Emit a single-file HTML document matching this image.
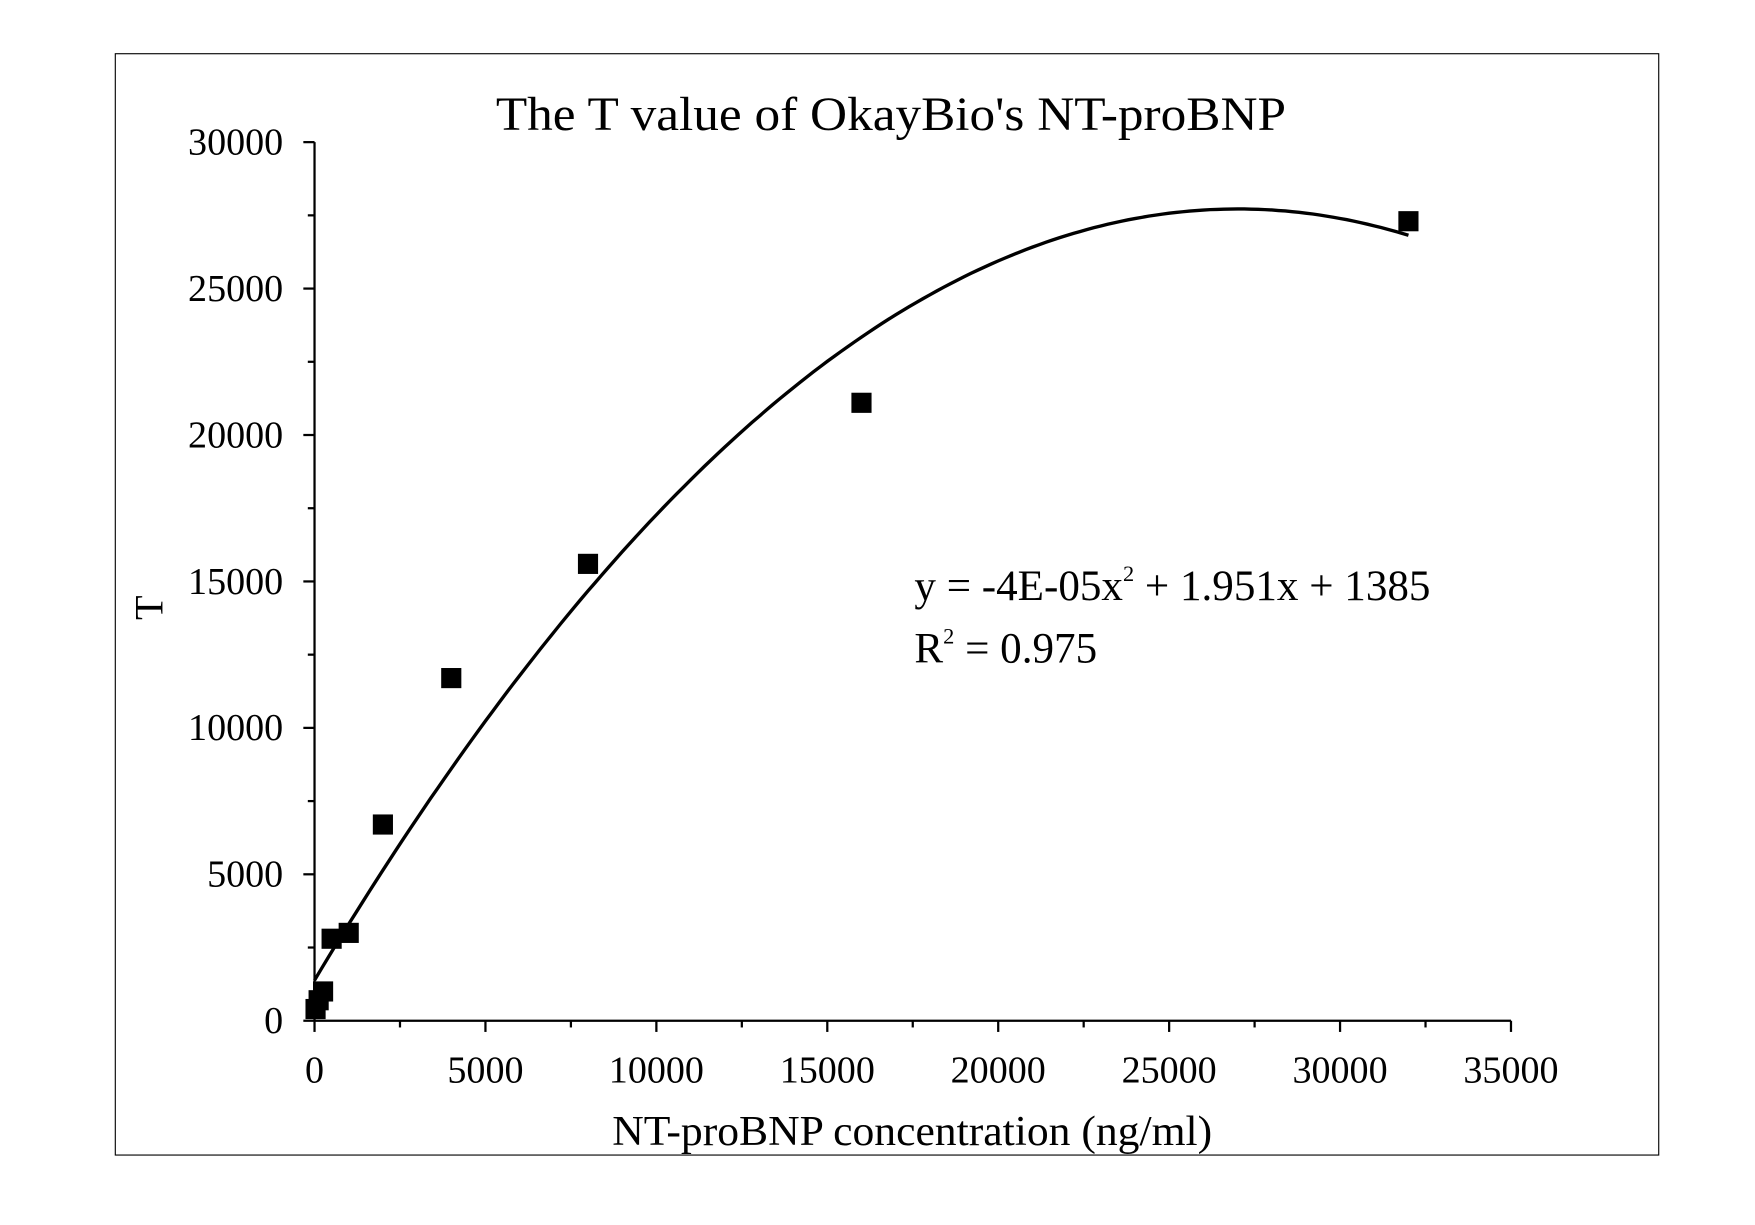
<!DOCTYPE html>
<html><head><meta charset="utf-8"><style>
html,body{margin:0;padding:0;background:#fff}
svg{display:block}
text{font-family:"Liberation Serif",serif;fill:#000}
</style></head><body>
<svg id="s" width="1755" height="1225" viewBox="0 0 1568 1094.5" xmlns="http://www.w3.org/2000/svg">
<rect x="103" y="48" width="1379" height="984" fill="none" stroke="#000" stroke-width="1"/>
<text x="796" y="116" font-size="43" text-anchor="middle" textLength="706" lengthAdjust="spacingAndGlyphs">The T value of OkayBio's NT-proBNP</text>
<text x="815" y="1023" font-size="38" text-anchor="middle" textLength="536" lengthAdjust="spacingAndGlyphs">NT-proBNP concentration (ng/ml)</text>
<text transform="translate(145,543) rotate(-90)" font-size="36" text-anchor="middle">T</text>
<text x="817" y="536" font-size="38.5">y = -4E-05x<tspan font-size="20" dy="-17">2</tspan><tspan dy="17"> + 1.951x + 1385</tspan></text>
<text x="817" y="592" font-size="38.5">R<tspan font-size="20" dy="-17">2</tspan><tspan dy="17"> = 0.975</tspan></text>
<g id="g" stroke="#000" stroke-width="2" fill="none"></g>
<g id="t" font-size="34"></g>
</svg>
<script>
var X0=281,XS=(1350-281)/35000,Y0=912,YS=(912-127)/30000;
function px(x){return X0+x*XS}function py(y){return Y0-y*YS}
var g=document.getElementById('g'),t=document.getElementById('t'),ns='http://www.w3.org/2000/svg';
function el(p,n,a){var e=document.createElementNS(ns,n);for(var k in a)e.setAttribute(k,a[k]);p.appendChild(e);return e}
el(g,'line',{x1:X0,y1:Y0,x2:1350,y2:Y0});
el(g,'line',{x1:X0,y1:Y0,x2:X0,y2:127});
for(var v=0;v<=35000;v+=2500){var M=v%5000==0;el(g,'line',{x1:px(v),y1:Y0,x2:px(v),y2:Y0+(M?10:6)});
if(M){var tx=el(t,'text',{x:px(v),y:967,'text-anchor':'middle'});tx.textContent=v;}}
for(var v=0;v<=30000;v+=2500){var M=v%5000==0;el(g,'line',{x1:X0,y1:py(v),x2:X0-(M?10:6),y2:py(v)});
if(M){var tx=el(t,'text',{x:253,y:py(v)+11,'text-anchor':'end'});tx.textContent=v;}}
var d='';for(var x=0;x<=32000;x+=200){var y=-3.61e-5*x*x+1.95*x+1385;d+=(x?'L':'M')+px(x).toFixed(1)+' '+py(y).toFixed(1)}
el(g,'path',{d:d,'stroke-width':3});
var pts=[[30,400],[120,700],[250,1000],[500,2800],[1000,3000],[2000,6700],[4000,11700],[8000,15600],[16000,21100],[32000,27300]];
pts.forEach(function(p){el(document.getElementById('s'),'rect',{x:px(p[0])-9,y:py(p[1])-9,width:18,height:18,fill:'#000'})});
</script>
</body></html>
